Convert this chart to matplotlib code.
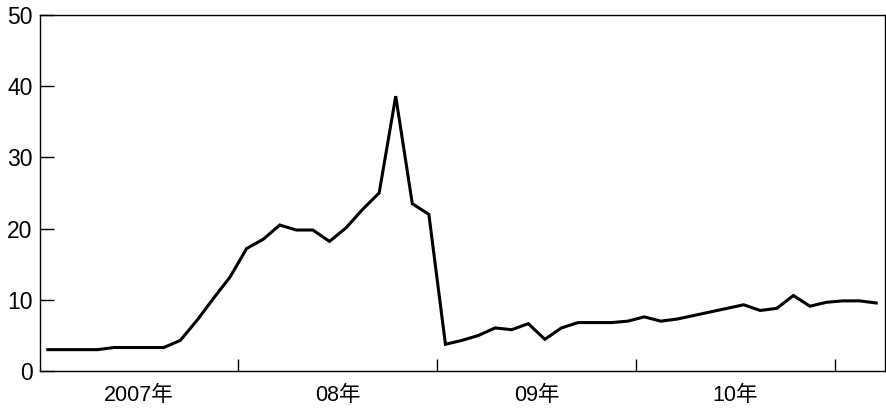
#!/usr/bin/env python

import numpy as np
import matplotlib
matplotlib.use("Agg")
import matplotlib.pyplot as plt
import matplotlib.ticker as mticker

plt.rcParams['font.family'] = ['Liberation Sans', 'Noto Sans CJK JP']

# monthly values, 2007-01 .. 2011-03
values = [3.0, 3.0, 3.0, 3.0, 3.3, 3.3, 3.3, 3.3, 4.3, 7.1,
          10.2, 13.2, 17.2, 18.5, 20.5, 19.8, 19.8, 18.2, 20.1, 22.7,
          25.0, 38.6, 23.5, 22.0, 3.75, 4.3, 5.0, 6.05, 5.8, 6.65,
          4.45, 6.05, 6.8, 6.8, 6.8, 7.0, 7.6, 7.0, 7.3, 7.8,
          8.3, 8.8, 9.3, 8.5, 8.8, 10.6, 9.1, 9.65, 9.85, 9.85,
          9.55]
year_labels = ["2007年", "08年", "09年", "10年"]
year_starts = [0, 12, 24, 36, 48]  # month index where each year begins

n_months = 51
x = np.arange(len(values)) + 0.5

fig = plt.figure(figsize=(8.86, 4.09), dpi=100)
ax = fig.add_axes([39.5/886, 1 - 371/409, (884.5-39.5)/886, (371-15)/409])

ax.plot(x, values, color="k", linewidth=2.2, solid_joinstyle="miter")

ax.set_xlim(0, n_months)
ax.set_ylim(0, 50)
ax.set_yticks([0, 10, 20, 30, 40, 50])

ax.xaxis.set_major_locator(mticker.FixedLocator(year_starts[1:]))
ax.xaxis.set_major_formatter(mticker.NullFormatter())
ax.xaxis.set_minor_locator(mticker.FixedLocator([s + 6 for s in year_starts[:4]]))
ax.xaxis.set_minor_formatter(mticker.FixedFormatter(year_labels))

ax.tick_params(axis="x", which="major", direction="in", length=9, width=1)
ax.tick_params(axis="x", which="minor", length=0, pad=10, labelsize=15.5)
ax.tick_params(axis="y", direction="in", length=10, width=1, labelsize=16.5, pad=5)

for s in ax.spines.values():
    s.set_linewidth(1)

fig.savefig("out.png", dpi=100)
